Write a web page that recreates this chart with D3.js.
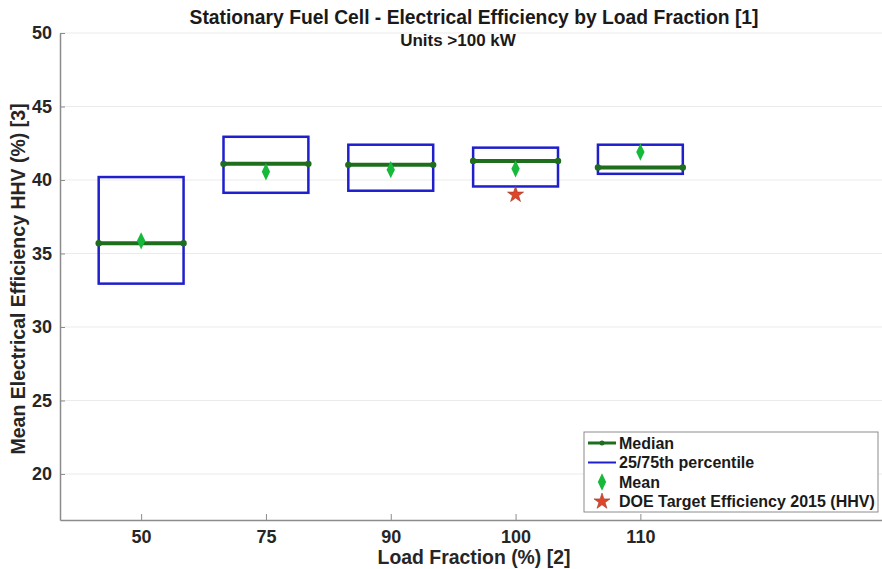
<!DOCTYPE html>
<html>
<head>
  <title>Stationary Fuel Cell - Electrical Efficiency by Load Fraction</title>
  <script src="https://d3js.org/d3.v7.min.js"></script>
  <style>
    body { margin: 0; background: #fff; }
    text { font-family: "Liberation Sans", Arial, sans-serif; font-weight: bold; }
  </style>
</head>
<body>
<script>
// data
const loads    = ["50", "75", "90", "100", "110"];
const p25      = [32.95, 39.13, 39.27, 39.56, 40.42];
const p75      = [40.2, 42.94, 42.4, 42.2, 42.4];
const medians  = [35.7, 41.1, 41.03, 41.3, 40.85];
const means    = [35.86, 40.56, 40.7, 40.76, 41.9];
const doeTarget = [{ load: "100", value: 39.0 }];
const yTicks   = [20, 25, 30, 35, 40, 45, 50];
const legendItems = ["Median", "25/75th percentile", "Mean", "DOE Target Efficiency 2015 (HHV)"];

const W = 882, H = 569;
const margin = { top: 33, right: -8, bottom: 49, left: 60 };
const width = W - margin.left - margin.right;
const height = H - margin.top - margin.bottom;

const svg = d3.select("body").append("svg")
  .attr("width", W).attr("height", H);

const g = svg.append("g")
  .attr("transform", `translate(${margin.left},${margin.top})`);

// categorical positions 1..5 on a linear axis, like the original
const x = d3.scaleLinear().domain([0.35, 7.0]).range([0, width]);
const y = d3.scaleLinear().domain([16.87, 50]).range([height, 0]);
const pos = d => loads.indexOf(d) + 1;
const halfW = 0.34;

// grid
g.selectAll(".grid").data(yTicks).enter().append("line")
  .attr("x1", 0).attr("x2", width)
  .attr("y1", d => y(d)).attr("y2", d => y(d))
  .attr("stroke", "#ebebeb").attr("stroke-width", 1);

// axes
const yAxis = g.append("g").call(d3.axisLeft(y).tickValues(yTicks).tickSizeInner(-5).tickSizeOuter(0).tickPadding(8));
yAxis.select(".domain").attr("stroke", "#8c8c8c").attr("stroke-width", 1.5);
yAxis.selectAll(".tick line").attr("stroke", "#8c8c8c");
yAxis.selectAll("text").attr("font-size", 18).attr("fill", "#262626")
  .style("font-family", '"Liberation Sans", Arial, sans-serif');

const xAxis = g.append("g").attr("transform", `translate(0,${height})`)
  .call(d3.axisBottom(x).tickValues(d3.range(1, 6)).tickFormat(d => loads[d - 1]).tickSizeInner(-6).tickSizeOuter(0).tickPadding(10));
xAxis.select(".domain").attr("stroke", "#8c8c8c").attr("stroke-width", 1.5);
xAxis.selectAll(".tick line").attr("stroke", "#8c8c8c");
xAxis.selectAll("text").attr("font-size", 18).attr("fill", "#262626")
  .style("font-family", '"Liberation Sans", Arial, sans-serif');

// boxes (25/75th percentile)
g.selectAll(".box").data(loads).enter().append("rect")
  .attr("x", (d, i) => x(i + 1 - halfW))
  .attr("y", (d, i) => y(p75[i]))
  .attr("width", x(1 + halfW) - x(1 - halfW))
  .attr("height", (d, i) => y(p25[i]) - y(p75[i]))
  .attr("fill", "none").attr("stroke", "#1f1fcc").attr("stroke-width", 2.5);

// medians
g.selectAll(".median").data(loads).enter().append("line")
  .attr("x1", (d, i) => x(i + 1 - halfW)).attr("x2", (d, i) => x(i + 1 + halfW))
  .attr("y1", (d, i) => y(medians[i])).attr("y2", (d, i) => y(medians[i]))
  .attr("stroke", "#1e6e1e").attr("stroke-width", 4);
loads.forEach((d, i) => {
  [i + 1 - halfW, i + 1 + halfW].forEach(v => {
    g.append("circle").attr("cx", x(v)).attr("cy", y(medians[i])).attr("r", 3.2).attr("fill", "#1e6e1e");
  });
});

// means
const diamond = d3.symbol().type(d3.symbolDiamond).size(60);
g.selectAll(".mean").data(loads).enter().append("path")
  .attr("d", diamond)
  .attr("transform", (d, i) => `translate(${x(i + 1)},${y(means[i])}) scale(1,1.2)`)
  .attr("fill", "#17b93a");

// DOE target
const star = d3.symbol().type(d3.symbolStar).size(80);
g.selectAll(".doe").data(doeTarget).enter().append("path")
  .attr("d", star)
  .attr("transform", d => `translate(${x(pos(d.load))},${y(d.value)})`)
  .attr("fill", "#e0452a").attr("stroke", "#9a3a28").attr("stroke-width", 0.6);

// titles
svg.append("text").attr("x", 474).attr("y", 24)
  .attr("text-anchor", "middle").attr("font-size", 19.3).attr("fill", "#1a1a1a")
  .text("Stationary Fuel Cell - Electrical Efficiency by Load Fraction [1]");
svg.append("text").attr("x", 458).attr("y", 46)
  .attr("text-anchor", "middle").attr("font-size", 17).attr("fill", "#1a1a1a")
  .text("Units >100 kW");
svg.append("text").attr("x", 474).attr("y", 564)
  .attr("text-anchor", "middle").attr("font-size", 19.4).attr("fill", "#262626")
  .text("Load Fraction (%) [2]");
svg.append("text").attr("transform", `translate(25,279) rotate(-90)`)
  .attr("text-anchor", "middle").attr("font-size", 19.5).attr("fill", "#262626")
  .text("Mean Electrical Efficiency HHV (%) [3]");

// legend
const lg = svg.append("g").attr("transform", "translate(584,432)");
lg.append("rect").attr("width", 294).attr("height", 80)
  .attr("fill", "#fff").attr("stroke", "#8c8c8c").attr("stroke-width", 1);
legendItems.forEach((name, i) => {
  const cy = 11 + i * 19.5;
  const row = lg.append("g").attr("transform", `translate(0,${cy})`);
  if (i === 0) {
    row.append("line").attr("x1", 4).attr("x2", 32).attr("stroke", "#1e6e1e").attr("stroke-width", 3);
    row.append("circle").attr("cx", 18).attr("r", 2.5).attr("fill", "#1e6e1e");
  } else if (i === 1) {
    row.append("line").attr("x1", 4).attr("x2", 32).attr("stroke", "#1f1fcc").attr("stroke-width", 2);
  } else if (i === 2) {
    row.append("path").attr("d", diamond).attr("transform", "translate(18,0) scale(1,1.2)").attr("fill", "#17b93a");
  } else {
    row.append("path").attr("d", star).attr("transform", "translate(18,0)")
      .attr("fill", "#e0452a").attr("stroke", "#9a3a28").attr("stroke-width", 0.6);
  }
  row.append("text").attr("x", 35).attr("dy", "0.36em")
    .attr("font-size", 16).attr("fill", "#1a1a1a")
    .text(name);
});
</script>
</body>
</html>
